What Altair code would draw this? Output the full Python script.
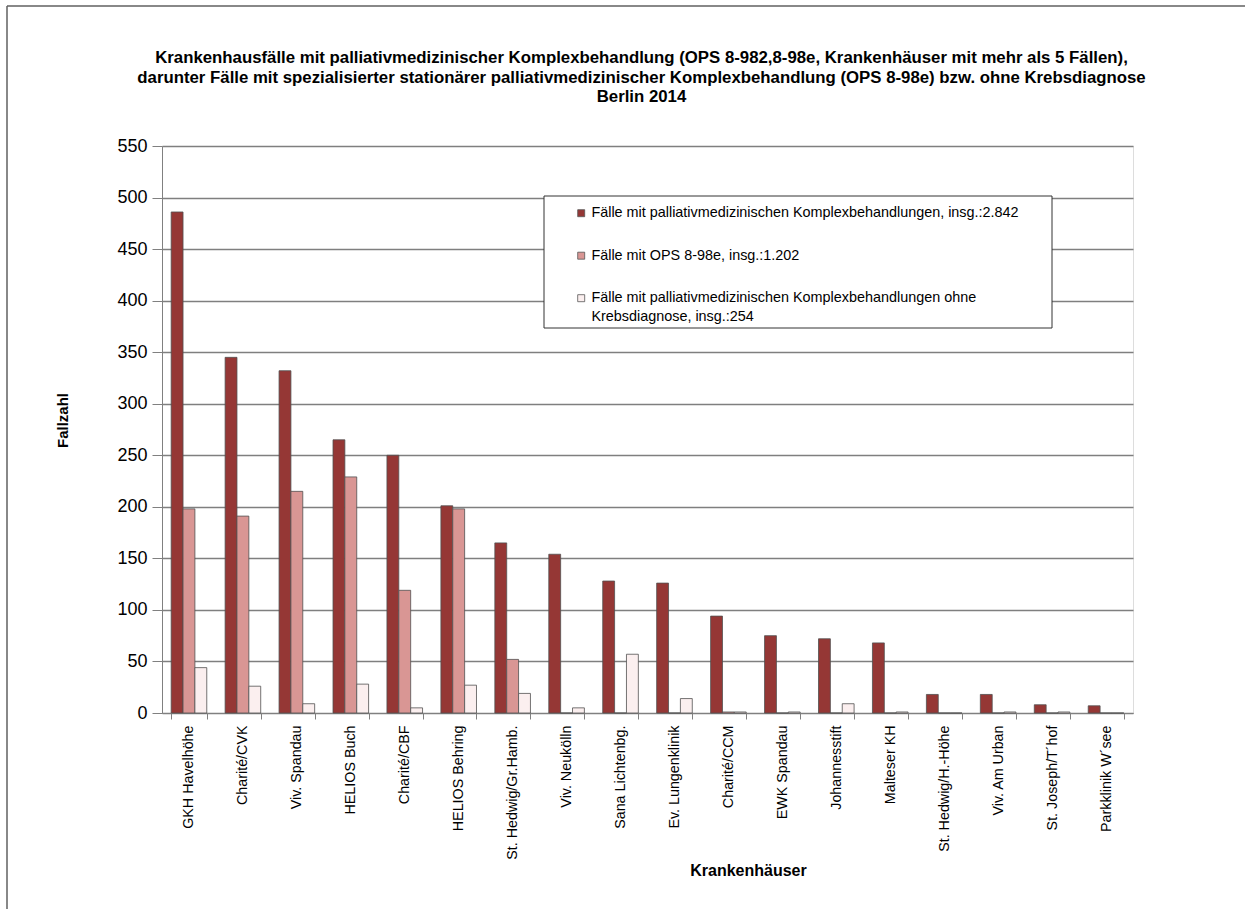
import altair as alt
import pandas as pd

hospitals = [
    "GKH Havelhöhe", "Charité/CVK", "Viv. Spandau", "HELIOS Buch", "Charité/CBF",
    "HELIOS Behring", "St. Hedwig/Gr.Hamb.", "Viv. Neukölln", "Sana Lichtenbg.",
    "Ev. Lungenklinik", "Charité/CCM", "EWK Spandau", "Johannesstift", "Malteser KH",
    "St. Hedwig/H.-Höhe", "Viv. Am Urban", "St. Joseph/T´hof", "Parkklinik W´see",
]
faelle_gesamt = [486, 345, 332, 265, 250, 201, 165, 154, 128, 126, 94, 75, 72, 68, 18, 18, 8, 7]
faelle_ops = [198, 191, 215, 229, 119, 198, 52, 0, 0, 0, 1, 0, 0, 0, 0, 0, 0, 0]
faelle_ohne_krebs = [44, 26, 9, 28, 5, 27, 19, 5, 57, 14, 1, 1, 9, 1, 0, 1, 1, 0]

series = [
    "Fälle mit palliativmedizinischen Komplexbehandlungen, insg.:2.842",
    "Fälle mit OPS 8-98e, insg.:1.202",
    "Fälle mit palliativmedizinischen Komplexbehandlungen ohne Krebsdiagnose, insg.:254",
]
colors = ["#953735", "#D99694", "#FBEFEF"]

rows = []
for i, h in enumerate(hospitals):
    for s, vals in zip(series, [faelle_gesamt, faelle_ops, faelle_ohne_krebs]):
        rows.append({"Krankenhaus": h, "Serie": s, "Fallzahl": vals[i]})
df = pd.DataFrame(rows)

FONT = "Liberation Sans"

label_expr = (
    "datum.label == '" + series[2] + "' ? "
    "['Fälle mit palliativmedizinischen Komplexbehandlungen ohne', 'Krebsdiagnose, insg.:254'] : "
    "datum.label"
)

frame_src = pd.DataFrame({"k": [0]})

legend_box = alt.Chart(frame_src).mark_rect(
    fill="#ffffff", stroke="#333333", strokeWidth=1
).encode(
    x=alt.value(382), x2=alt.value(890), y=alt.value(50), y2=alt.value(182)
)

bars = alt.Chart(df).mark_bar(stroke="#505050", strokeWidth=0.8).encode(
    x=alt.X(
        "Krankenhaus:N",
        sort=hospitals,
        scale=alt.Scale(paddingInner=0.34, paddingOuter=0.17),
        axis=alt.Axis(
            title="Krankenhäuser",
            labelAngle=270,
            labelFont=FONT,
            labelFontSize=14.3,
            labelColor="#000000",
            labelPadding=6,
            tickBand="extent",
            tickSize=6,
            tickColor="#808080",
            domainColor="#808080",
            domainWidth=1,
            titleFont=FONT,
            titleFontSize=16,
            titleFontWeight="bold",
            titleColor="#000000",
            titleX=586,
            titleY=157,
            titleAlign="center",
            titleBaseline="middle",
            grid=False,
        ),
    ),
    xOffset=alt.XOffset("Serie:N", sort=series, scale=alt.Scale(paddingInner=0, paddingOuter=0)),
    y=alt.Y(
        "Fallzahl:Q",
        scale=alt.Scale(domain=[0, 550], nice=False),
        axis=alt.Axis(
            title="Fallzahl",
            values=list(range(0, 551, 50)),
            labelFont=FONT,
            labelFontSize=18,
            labelColor="#000000",
            labelPadding=5,
            tickSize=10,
            tickColor="#808080",
            domainColor="#808080",
            grid=True,
            gridColor="#7f7f7f",
            gridWidth=1.5,
            titleFont=FONT,
            titleFontSize=15,
            titleFontWeight="bold",
            titleColor="#000000",
            titleAngle=270,
            titleX=-100,
            titleY=274,
            titleAlign="center",
            titleBaseline="middle",
        ),
    ),
    color=alt.Color(
        "Serie:N",
        sort=series,
        scale=alt.Scale(domain=series, range=colors),
        legend=alt.Legend(
            title=None,
            orient="none",
            legendX=382,
            legendY=50,
            padding=10,
            symbolType="square",
            symbolSize=49,
            symbolStrokeColor="#555555",
            symbolStrokeWidth=0.8,
            symbolOffset=20,
            labelFont=FONT,
            labelFontSize=14.4,
            labelOffset=3,
            labelColor="#000000",
            labelLimit=700,
            labelExpr=label_expr,
            rowPadding=27.5,
        ),
    ),
)

frame_top = alt.Chart(frame_src).mark_rule(color="#606060", strokeWidth=1.5).encode(
    x=alt.value(-155), x2=alt.value(1083), y=alt.value(-140)
)
frame_left = alt.Chart(frame_src).mark_rule(color="#606060", strokeWidth=1.5).encode(
    x=alt.value(-155), y=alt.value(-140), y2=alt.value(763)
)

chart = alt.layer(bars, legend_box, frame_top, frame_left).properties(
    width=971,
    height=567,
    title=alt.TitleParams(
        text=[
            "Krankenhausfälle mit palliativmedizinischer Komplexbehandlung  (OPS 8-982,8-98e, Krankenhäuser mit mehr als 5 Fällen),",
            "darunter Fälle mit spezialisierter stationärer palliativmedizinischer Komplexbehandlung (OPS 8-98e) bzw. ohne Krebsdiagnose",
            "Berlin 2014",
        ],
        font=FONT,
        fontSize=16.8,
        fontWeight="bold",
        color="#000000",
        anchor="middle",
        lineHeight=19.5,
        offset=30,
        dx=-6,
        dy=131,
    ),
    autosize=alt.AutoSizeParams(type="none"),
    padding={"left": 162, "top": 146, "right": 112, "bottom": 196},
).configure_view(
    fill="#C0C0C0",
    stroke=None,
).configure(
    background="#ffffff",
    style={"guide-label": {"lineHeight": 19}},
)

chart.save("out.html", embed_options={"renderer": "svg", "actions": False})
